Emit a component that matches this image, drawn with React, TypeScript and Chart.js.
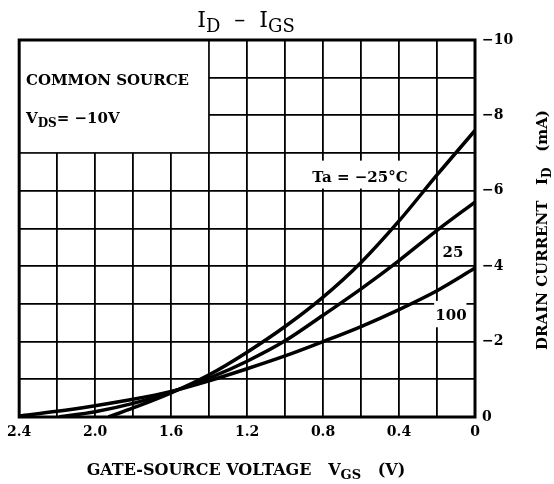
import { useEffect, useRef } from "react";
import { Chart, registerables } from "chart.js";
Chart.register(...registerables);

// Gate-source voltage (V, magnitude) and drain current (mA, magnitude) per ambient temperature
const vgsM25 = [0, 0.2, 0.4, 0.6, 0.8, 1.0, 1.2, 1.4, 1.6, 1.8, 1.93];
const idM25 = [7.6, 6.42, 5.2, 4.1, 3.18, 2.4, 1.72, 1.12, 0.64, 0.24, 0];

const vgs25 = [0, 0.2, 0.4, 0.6, 0.8, 1.0, 1.2, 1.4, 1.6, 1.8, 2.0, 2.19];
const id25 = [5.7, 4.95, 4.15, 3.4, 2.7, 2.02, 1.48, 1.03, 0.66, 0.36, 0.14, 0];

const vgs100 = [0, 0.2, 0.4, 0.6, 0.8, 1.0, 1.2, 1.4, 1.6, 1.8, 2.0, 2.2, 2.4];
const id100 = [3.95, 3.35, 2.85, 2.4, 2.0, 1.62, 1.28, 0.96, 0.68, 0.47, 0.3, 0.15, 0.03];

const xTickValues = [2.4, 2.0, 1.6, 1.2, 0.8, 0.4, 0];
const xTickLabels = ["2.4", "2.0", "1.6", "1.2", "0.8", "0.4", "0"];
const yTickValues = [10, 8, 6, 4, 2, 0];
const yTickLabels = ["\u221210", "\u22128", "\u22126", "\u22124", "\u22122", "0"];

const SERIF = "'DejaVu Serif', serif";

type Part = { t: string; size: number; dy?: number };

function drawRich(
  ctx: CanvasRenderingContext2D,
  parts: Part[],
  x: number,
  y: number,
  align: "left" | "center",
  weight: string,
  rotate = 0
) {
  let w = 0;
  for (const p of parts) {
    ctx.font = `${weight} ${p.size}px ${SERIF}`;
    w += ctx.measureText(p.t).width;
  }
  ctx.save();
  ctx.translate(x, y);
  if (rotate) ctx.rotate(rotate);
  ctx.fillStyle = "#000";
  ctx.textBaseline = "alphabetic";
  ctx.textAlign = "left";
  let cx = align === "center" ? -w / 2 : 0;
  for (const p of parts) {
    ctx.font = `${weight} ${p.size}px ${SERIF}`;
    ctx.fillText(p.t, cx, p.dy || 0);
    cx += ctx.measureText(p.t).width;
  }
  ctx.restore();
}

const overlay = {
  id: "overlay",
  beforeDatasetsDraw(chart: any) {
    const { ctx, chartArea: a, scales } = chart;
    const x = scales.x;
    const y = scales.y;
    const g = 1;
    ctx.save();
    ctx.fillStyle = "#fff";
    // condition box (top-left)
    {
      const l = x.getPixelForValue(2.4);
      const r = x.getPixelForValue(1.4) - g;
      const t = y.getPixelForValue(10);
      const b = y.getPixelForValue(7) - g;
      ctx.fillRect(l, t, r - l, b - t);
    }
    // Ta label box
    {
      const l = x.getPixelForValue(0.92);
      const r = x.getPixelForValue(0.28);
      const t = y.getPixelForValue(6.8);
      const b = y.getPixelForValue(6.06);
      ctx.fillRect(l, t, r - l, b - t);
    }
    // 100 label box
    {
      const l = x.getPixelForValue(0.215);
      const r = x.getPixelForValue(0.045);
      const t = y.getPixelForValue(3.08);
      const b = y.getPixelForValue(2.38);
      ctx.fillRect(l, t, r - l, b - t);
    }
    ctx.strokeStyle = "#000";
    ctx.lineWidth = 3;
    ctx.strokeRect(a.left, a.top, a.right - a.left, a.bottom - a.top);
    ctx.restore();
  },
  afterDraw(chart: any) {
    const { ctx } = chart;
    // title
    drawRich(
      ctx,
      [
        { t: "I", size: 22 },
        { t: "D", size: 18, dy: 5 },
        { t: "  \u2013  ", size: 22 },
        { t: "I", size: 22 },
        { t: "GS", size: 18, dy: 5 },
      ],
      246,
      27,
      "center",
      "normal"
    );
    drawRich(ctx, [{ t: "COMMON SOURCE", size: 15 }], 26, 85, "left", "bold");
    drawRich(
      ctx,
      [
        { t: "V", size: 15 },
        { t: "DS", size: 12, dy: 4 },
        { t: "= \u221210V", size: 15 },
      ],
      26,
      123,
      "left",
      "bold"
    );
    drawRich(ctx, [{ t: "Ta = \u221225\u00b0C", size: 15 }], 360, 182, "center", "bold");
    drawRich(ctx, [{ t: "25", size: 15 }], 453, 257, "center", "bold");
    drawRich(ctx, [{ t: "100", size: 15 }], 451, 320, "center", "bold");
    // x axis title
    drawRich(
      ctx,
      [
        { t: "GATE-SOURCE VOLTAGE   V", size: 16 },
        { t: "GS", size: 13, dy: 4 },
        { t: "   (V)", size: 16 },
      ],
      246,
      475,
      "center",
      "bold"
    );
    // y axis title
    drawRich(
      ctx,
      [
        { t: "DRAIN CURRENT   I", size: 15 },
        { t: "D", size: 12, dy: 4 },
        { t: "   (mA)", size: 15 },
      ],
      547,
      230,
      "center",
      "bold",
      -Math.PI / 2
    );
  },
};

function pts(xs: number[], ys: number[]) {
  return xs.map((v, i) => ({ x: v, y: ys[i] }));
}

export default function App() {
  const ref = useRef<HTMLCanvasElement | null>(null);
  useEffect(() => {
    if (!ref.current) return;
    const line = (data: any) => ({
      data,
      borderColor: "#000",
      borderWidth: 3.5,
      pointRadius: 0,
      fill: false,
      cubicInterpolationMode: "monotone" as const,
    });
    const chart = new Chart(ref.current, {
      type: "line",
      data: {
        datasets: [
          { label: "-25", ...line(pts(vgsM25, idM25)) },
          { label: "25", ...line(pts(vgs25, id25)) },
          { label: "100", ...line(pts(vgs100, id100)) },
        ],
      },
      options: {
        responsive: false,
        animation: false,
        devicePixelRatio: 1,
        layout: { padding: { left: 17, top: 40, right: 0, bottom: 0 } },
        plugins: {
          legend: { display: false },
          tooltip: { enabled: false },
          title: { display: false },
        },
        scales: {
          x: {
            type: "linear",
            reverse: true,
            min: 0,
            max: 2.4,
            ticks: {
              stepSize: 0.2,
              autoSkip: false,
              maxRotation: 0,
              padding: 7,
              color: "#000",
              font: { family: SERIF, weight: "bold", size: 14 },
              callback: (v: any) => {
                const i = xTickValues.findIndex((t) => Math.abs(t - Number(v)) < 1e-6);
                return i >= 0 ? xTickLabels[i] : "";
              },
            },
            grid: { color: "#000", lineWidth: 1.8, drawTicks: false },
            border: { display: false },
            afterFit: (s: any) => {
              s.height = 67;
            },
          },
          y: {
            type: "linear",
            position: "right",
            min: 0,
            max: 10,
            ticks: {
              stepSize: 1,
              autoSkip: false,
              padding: 7,
              color: "#000",
              font: { family: SERIF, weight: "bold", size: 14 },
              callback: (v: any) => {
                const i = yTickValues.findIndex((t) => Math.abs(t - Number(v)) < 1e-6);
                return i >= 0 ? yTickLabels[i] : "";
              },
            },
            grid: { color: "#000", lineWidth: 1.8, drawTicks: false },
            border: { display: false },
            afterFit: (s: any) => {
              s.width = 79;
            },
          },
        },
      },
      plugins: [overlay],
    });
    return () => chart.destroy();
  }, []);
  return (
    <div style={{ position: "absolute", left: 0, top: 0, width: 554, height: 484, background: "#fff" }}>
      <canvas ref={ref} width={554} height={484} style={{ display: "block", width: 554, height: 484 }} />
    </div>
  );
}
